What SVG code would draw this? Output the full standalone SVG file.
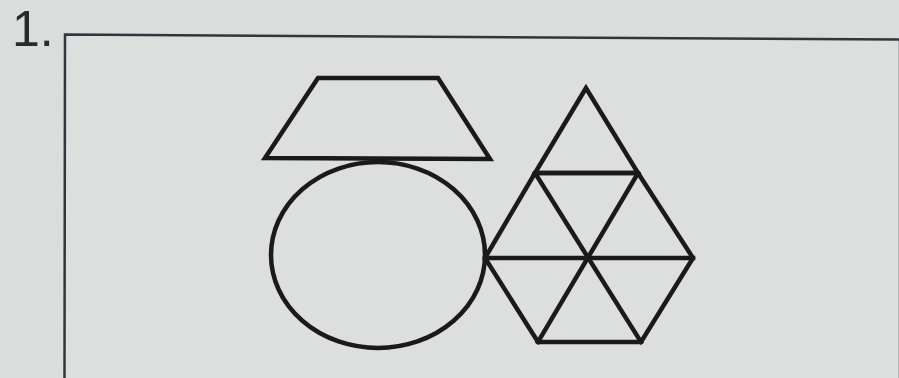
<svg xmlns="http://www.w3.org/2000/svg" width="899" height="378" viewBox="0 0 899 378">
<style>
.bg{fill:#d9dddc}
.frame{fill:#dcdfde;stroke:#34343e;stroke-width:2.5}
.shape{fill:none;stroke:#1a1a1c;stroke-width:4.5;stroke-linejoin:miter;stroke-linecap:square}
.num{font-family:"Liberation Sans",Arial,sans-serif;font-size:50px;fill:#2a2a2e}
</style>
<rect class="bg" x="0" y="0" width="899" height="378"/>
<g id="label"><text class="num" x="12" y="46">1.</text></g>
<g id="frame"><path class="frame" d="M64.5,380 L65,34.5 L900,39.5 L900,380 Z"/></g>
<g id="trapezoid"><polygon class="shape" points="318,78 438,78 490,159 265,158"/></g>
<g id="circle"><ellipse class="shape" cx="378" cy="255" rx="107" ry="93"/></g>
<g id="triangles">
<polygon class="shape" points="586,88 535,173 638,173"/>
<polygon class="shape" points="535,173 638,173 693,258 641,342 538,342 485,258"/>
<line class="shape" x1="485" y1="258" x2="693" y2="258"/>
<line class="shape" x1="535" y1="173" x2="641" y2="342"/>
<line class="shape" x1="638" y1="173" x2="538" y2="342"/>
</g>
<g id="connectors"></g>
</svg>
